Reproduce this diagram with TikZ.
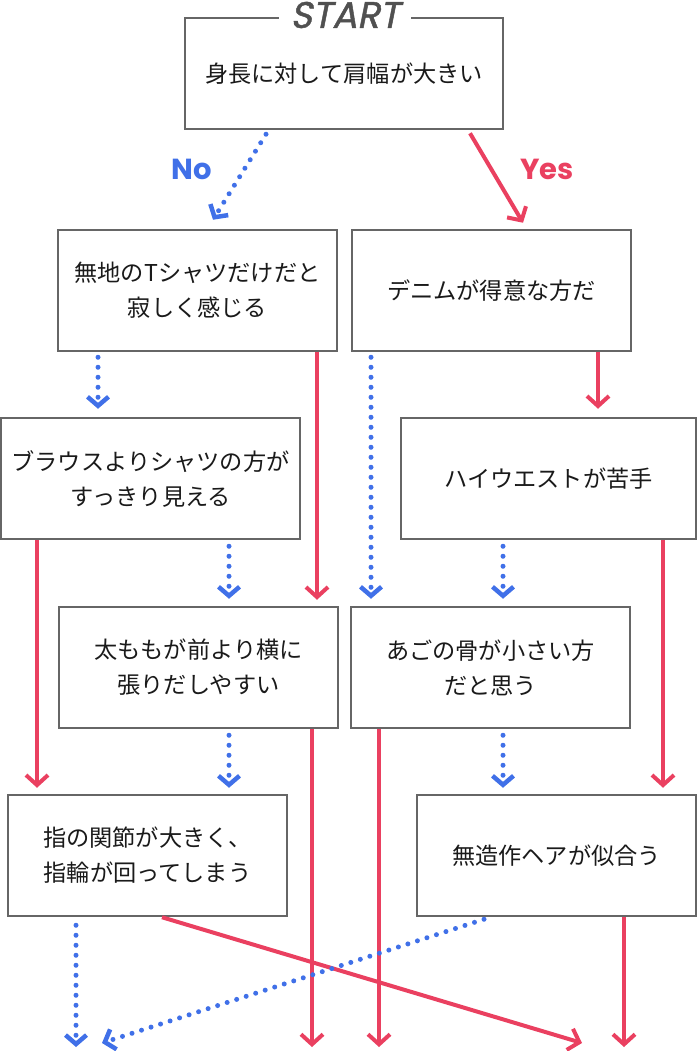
\documentclass[tikz,border=0pt]{standalone}
\usepackage{fontspec}
\newfontfamily\jp{Noto Sans CJK JP}
\newfontfamily\pop{Poppins}
\newfontfamily\popit{Poppins}[FakeSlant=0.2,FakeBold=1.2]
\usetikzlibrary{arrows.meta,calc}
\definecolor{myred}{HTML}{EA4060}
\definecolor{myblue}{HTML}{4070E8}
\definecolor{bordergray}{HTML}{666666}
\definecolor{startgray}{HTML}{505050}
\definecolor{txt}{HTML}{1A1A1A}
\begin{document}
\begin{tikzpicture}[x=1pt,y=-1pt,
  box/.style={draw=bordergray, line width=2.5pt, fill=white, text=txt,
    font=\jp\fontsize{23.2}{35}\selectfont, align=center, inner sep=0pt},
  yesarrow/.style={draw=myred, line width=4pt,
    -{Straight Barb[length=10pt,width=22pt]}},
  noarrow/.style={draw=myblue, line width=5pt, line cap=round,
    dash pattern=on 0pt off 10pt,
    -{Straight Barb[length=9pt,width=21pt,line width=4.5pt]}},
  lab/.style={font=\pop\bfseries\fontsize{29}{30}\selectfont}
]
\useasboundingbox (0,0) rectangle (697,1051);

% boxes
\node[box, minimum width=318pt, minimum height=111pt] (S) at (344,73.5) {身長に対して肩幅が大きい};
\node[fill=white, inner xsep=11pt, inner ysep=0pt, text=startgray,
  font=\popit\fontsize{37}{38}\selectfont] (st) at (345,15) {START};
\node[box, minimum width=279pt, minimum height=121pt] (A) at (197.5,290.5) {無地のTシャツだけだと\\寂しく感じる};
\node[box, minimum width=279pt, minimum height=121pt] (B) at (491.5,290.5) {デニムが得意な方だ};
\node[box, minimum width=299pt, minimum height=121pt] (C) at (150.5,478.5) {ブラウスよりシャツの方が\\すっきり見える};
\node[box, minimum width=295pt, minimum height=121pt] (D) at (548.5,478.5) {ハイウエストが苦手};
\node[box, minimum width=279pt, minimum height=121pt] (E) at (198.5,667.5) {太ももが前より横に\\張りだしやすい};
\node[box, minimum width=279pt, minimum height=121pt] (F) at (490.5,667.5) {あごの骨が小さい方\\だと思う};
\node[box, minimum width=279pt, minimum height=121pt] (G) at (147.5,855.5) {指の関節が大きく、\\指輪が回ってしまう};
\node[box, minimum width=279pt, minimum height=121pt] (H) at (556.5,855.5) {無造作ヘアが似合う};

% labels
\node[lab, text=myblue] (no) at (192,169) {No};
\node[lab, text=myred] (yes) at (547,169) {Yes};

% free ends
\coordinate (o1) at (76,1047);
\coordinate (o2) at (102,1043);
\coordinate (o3) at (312,1047);
\coordinate (o4) at (379,1047);
\coordinate (o5) at (582,1043);
\coordinate (o6) at (624,1047);

% red (yes) connectors
\draw[yesarrow] ($(470,0 |- S.south)+(0,3)$) -- ($(523,0 |- B.north)+(0,-6)$);
\draw[yesarrow] (317,0 |- A.south) -- ($(317,0 |- E.north)+(0,-6)$);
\draw[yesarrow] (598,0 |- B.south) -- ($(598,0 |- D.north)+(0,-8)$);
\draw[yesarrow] (37,0 |- C.south) -- ($(37,0 |- G.north)+(0,-6)$);
\draw[yesarrow] (663,0 |- D.south) -- ($(663,0 |- H.north)+(0,-6)$);
\draw[yesarrow] (312,0 |- E.south) -- (o3);
\draw[yesarrow] (379,0 |- F.south) -- (o4);
\draw[yesarrow] (162,0 |- G.south) -- (o5);
\draw[yesarrow] (624,0 |- H.south) -- (o6);

% blue (no) connectors
\draw[noarrow] ($(266,0 |- S.south)+(0,4)$) -- ($(213,0 |- A.north)+(0,-9)$);
\draw[noarrow] ($(98,0 |- A.south)+(0,5)$) -- ($(98,0 |- C.north)+(0,-8)$);
\draw[noarrow] ($(371,0 |- B.south)+(0,5)$) -- ($(371,0 |- F.north)+(0,-7)$);
\draw[noarrow] ($(229,0 |- C.south)+(0,6)$) -- ($(229,0 |- E.north)+(0,-7)$);
\draw[noarrow] ($(503,0 |- D.south)+(0,6)$) -- ($(503,0 |- F.north)+(0,-7)$);
\draw[noarrow] ($(229,0 |- E.south)+(0,6)$) -- ($(229,0 |- G.north)+(0,-6)$);
\draw[noarrow] ($(503,0 |- F.south)+(0,6)$) -- ($(503,0 |- H.north)+(0,-6)$);
\draw[noarrow] ($(76,0 |- G.south)+(0,8)$) -- (o1);
\draw[noarrow] ($(484,0 |- H.south)+(0,2)$) -- (o2);
\end{tikzpicture}
\end{document}
